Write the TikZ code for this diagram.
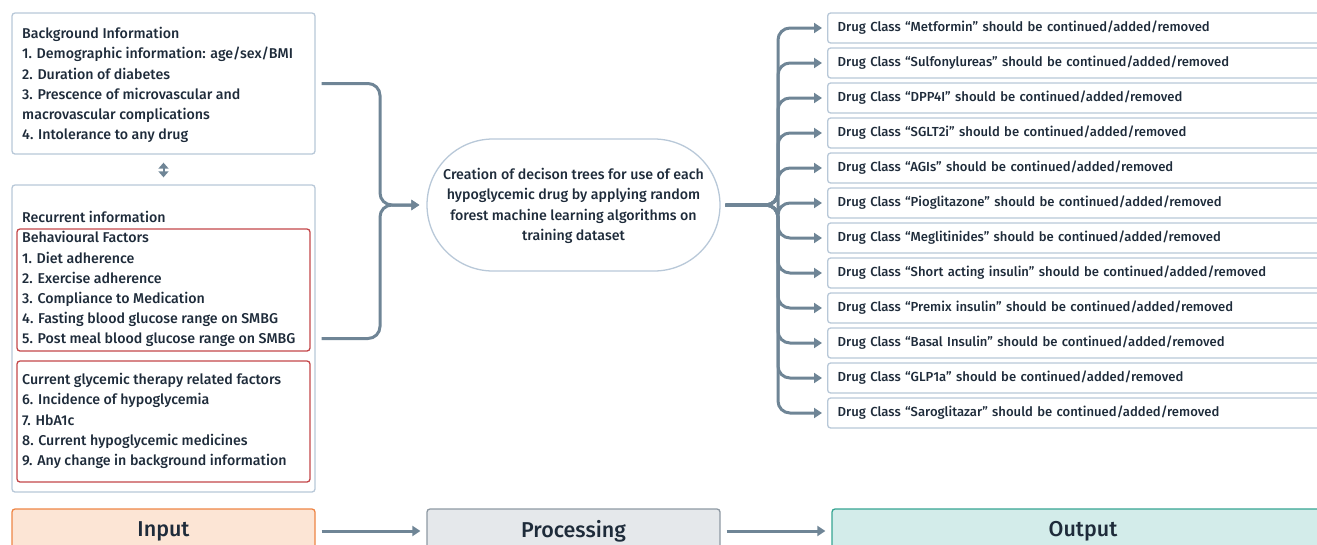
\documentclass[tikz,border=0pt]{standalone}
\usepackage{fontspec}
\setmainfont{Fira Sans}[UprightFont=* Medium]
\usetikzlibrary{shapes.misc,arrows.meta}
\definecolor{ink}{HTML}{1E2B3A}
\definecolor{wire}{HTML}{6F8596}
\definecolor{frame}{HTML}{B8C8D8}
\definecolor{redframe}{HTML}{C4474A}
\definecolor{inFill}{HTML}{FCE5D5}
\definecolor{inLine}{HTML}{EE8545}
\definecolor{prFill}{HTML}{E5E8EB}
\definecolor{prLine}{HTML}{8E99A3}
\definecolor{outFill}{HTML}{D3ECEA}
\definecolor{outLine}{HTML}{35A592}
\begin{document}
\begin{tikzpicture}[x=1pt,y=-1pt,
  every node/.style={text=ink},
  bodyfont/.style={font=\fontsize{14.2}{20.2}\selectfont},
  drugfont/.style={font=\fontsize{13.1}{20.2}\selectfont},
  box/.style={draw=frame, line width=1.3pt, rounded corners=3pt, fill=white, inner sep=0pt},
  redbox/.style={draw=redframe, line width=1.3pt, rounded corners=3pt, inner sep=0pt},
  listtext/.style={bodyfont, anchor=north west, align=left, inner sep=0pt},
  drugbox/.style={box, anchor=west, minimum height=30pt, text width=500pt,
    inner xsep=10pt, align=left, drugfont},
  stagebox/.style={line width=1.3pt, rounded corners=3pt, minimum height=44pt,
    inner sep=0pt, font=\fontsize{21.5}{24}\selectfont},
  conn/.style={draw=wire, line width=3pt, rounded corners=12pt,
    -{Triangle[length=8pt,width=10pt]}},
  dblarrow/.style={draw=wire, line width=2pt,
    {Triangle[length=6pt,width=10pt]}-{Triangle[length=6pt,width=10pt]}}
]
\useasboundingbox (0,0) rectangle (1317,544);
\clip (0,0) rectangle (1317,544);

% ---------- input side ----------
\node[box, minimum width=303pt, minimum height=141pt] (bg) at (163.5,83.5) {};
\node[listtext] (bgtext) at (22,27.2) {Background Information\\
1. Demographic information: age/sex/BMI\\
2. Duration of diabetes\\
3. Prescence of microvascular and\\
macrovascular complications\\
4. Intolerance to any drug};

\node[box, minimum width=303pt, minimum height=307pt] (rec) at (163.5,338.5) {};
\node[bodyfont, anchor=base west, inner sep=0pt] (rectitle) at (22,222.5) {Recurrent information};

\node[redbox, minimum width=293pt, minimum height=122pt] (behav) at (163.5,290) {};
\node[listtext] (behavtext) at (22,231.4) {Behavioural Factors\\
1. Diet adherence\\
2. Exercise adherence\\
3. Compliance to Medication\\
4. Fasting blood glucose range on SMBG\\
5. Post meal blood glucose range on SMBG};

\node[redbox, minimum width=293pt, minimum height=121pt] (glyc) at (163.5,421.5) {};
\node[listtext] (glyctext) at (22,373.1) {Current glycemic therapy related factors\\
6. Incidence of hypoglycemia\\
7. HbA1c\\
8. Current hypoglycemic medicines\\
9. Any change in background information};

\draw[dblarrow, shorten <=8pt, shorten >=7pt] (bg.south) -- (rec.north);

% ---------- processing ----------
\node[rounded rectangle, draw=frame, line width=1.3pt, minimum width=293pt,
  minimum height=132pt, inner sep=0pt] (proc) at (573.5,205) {};
\node[align=center, inner sep=0pt, font=\fontsize{14.2}{20.3}\selectfont] (proctext) at (573.5,206)
  {Creation of decison trees for use of each\\
   hypoglycemic drug by applying random\\
   forest machine learning algorithms on\\
   training dataset};

\coordinate (jl) at (380,205);
\draw[conn, shorten <=6pt, shorten >=7pt] (bg.east) -| (jl) -- (proc.west);
\draw[conn, shorten <=6pt, shorten >=7pt] (rec.east) -| (jl) -- (proc.west);

% ---------- output side ----------
\foreach \drug [count=\i] in {Metformin, Sulfonylureas, DPP4I, SGLT2i, AGIs,
  Pioglitazone, Meglitinides, Short acting insulin, Premix insulin,
  Basal Insulin, GLP1a, Saroglitazar} {
  \node[drugbox] (d\i) at (827,-7+35*\i) {Drug Class “\drug” should be continued/added/removed};
  \draw[conn, shorten <=5pt, shorten >=5pt] (proc.east) -| ([xshift=-49pt]d\i.west) -- (d\i.west);
}

% ---------- stage bar ----------
\node[stagebox, draw=inLine, fill=inFill, minimum width=303pt] (inp) at (163.5,531) {Input};
\node[stagebox, draw=prLine, fill=prFill, minimum width=293pt] (prc) at (573.5,531) {Processing};
\node[stagebox, draw=outLine, fill=outFill, minimum width=502pt] (out) at (1083,531) {Output};
\draw[conn, shorten <=6pt, shorten >=6pt] (inp) -- (prc);
\draw[conn, shorten <=6pt, shorten >=6pt] (prc) -- (out);
\end{tikzpicture}
\end{document}
